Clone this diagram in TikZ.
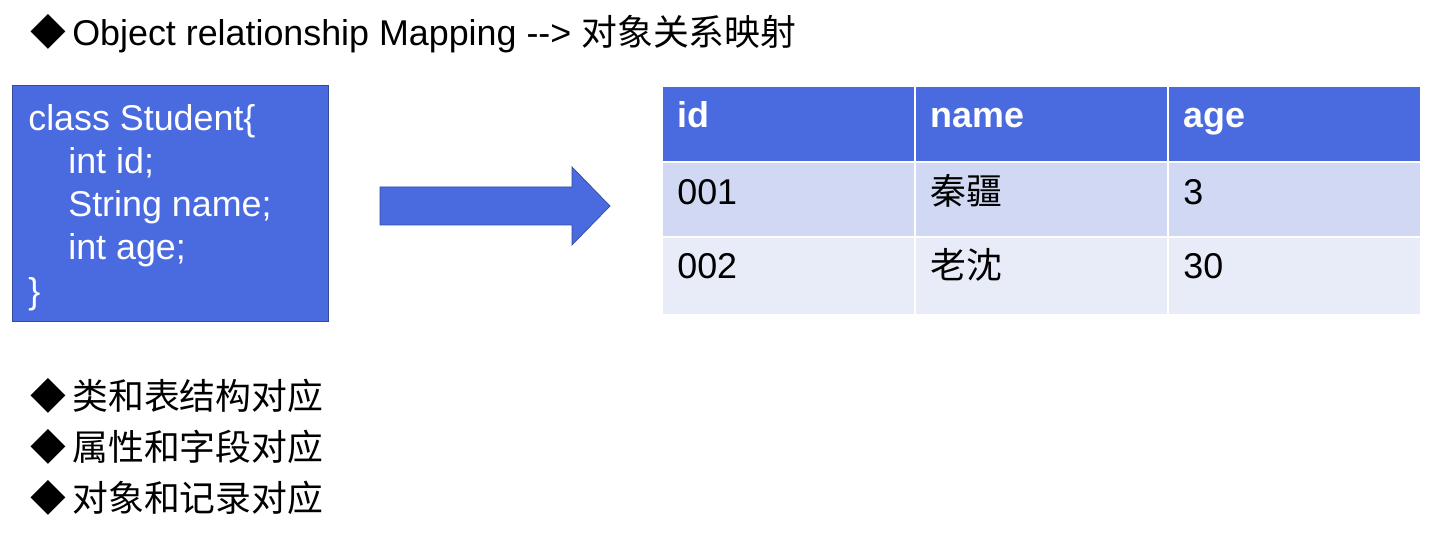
\documentclass[tikz,border=0pt]{standalone}
\usepackage{fontspec}
\setmainfont{Liberation Sans}
\newfontfamily\cjk{Noto Sans CJK SC}
\usetikzlibrary{positioning}
\definecolor{ormblue}{HTML}{4A6BE0}
\definecolor{rowone}{HTML}{D0D8F3}
\definecolor{rowtwo}{HTML}{E8ECF8}
\tikzset{
  txt/.style={anchor=base west,inner sep=0pt,font=\fontsize{20.4}{24}\selectfont},
  headtxt/.style={txt,text=white,font=\fontsize{20.4}{24}\selectfont\bfseries},
  cell/.style={draw=white,line width=1.5pt}
}
\begin{document}
\begin{tikzpicture}[x=0.02cm,y=-0.02cm]
\useasboundingbox (0,0) rectangle (1449,533);

% title
\node[txt] (dia0) at (30,46) {\cjk ◆};
\node[txt] (title) at (72,46) {Object relationship Mapping -{}-> {\cjk 对象关系映射}};

% class box
\node[fill=ormblue,draw=ormblue!70!black,minimum width=316*0.02cm,minimum height=236*0.02cm,
      anchor=north west,inner sep=0pt] (cls) at (12,85) {};
\foreach \t/\y/\x in {{class Student\{}/131/28, {int id;}/174/68, {String name;}/217/68,
                      {int age;}/260/68, {\}}/303/28}
  \node[txt,text=white] at (\x,\y) {\t};

% arrow
\draw[fill=ormblue,draw=ormblue!70!black] (380,187) -- (572,187) -- (572,167) -- (610,206)
  -- (572,245) -- (572,225) -- (380,225) -- cycle;

% table
\fill[ormblue] (663,87) rectangle (1420,162);
\fill[rowone] (663,162) rectangle (1420,237);
\fill[rowtwo] (663,237) rectangle (1420,314);
\foreach \x in {915,1168} \draw[cell] (\x,87) -- (\x,314);
\foreach \y in {162,237} \draw[cell] (663,\y) -- (1420,\y);
\foreach \t/\x in {id/677,name/930,age/1183}
  \node[headtxt] at (\x,128) {\t};
\foreach \a/\b/\c/\y in {001/秦疆/3/205, 002/老沈/30/278} {
  \node[txt] at (677,\y) {\a};
  \node[txt] at (930,\y) {\cjk \b};
  \node[txt] at (1183,\y) {\c};
}

% bullets
\foreach \t/\y in {类和表结构对应/409, 属性和字段对应/460, 对象和记录对应/511} {
  \node[txt] at (30,\y) {\cjk ◆};
  \node[txt] at (72,\y) {\cjk \t};
}
\end{tikzpicture}
\end{document}
